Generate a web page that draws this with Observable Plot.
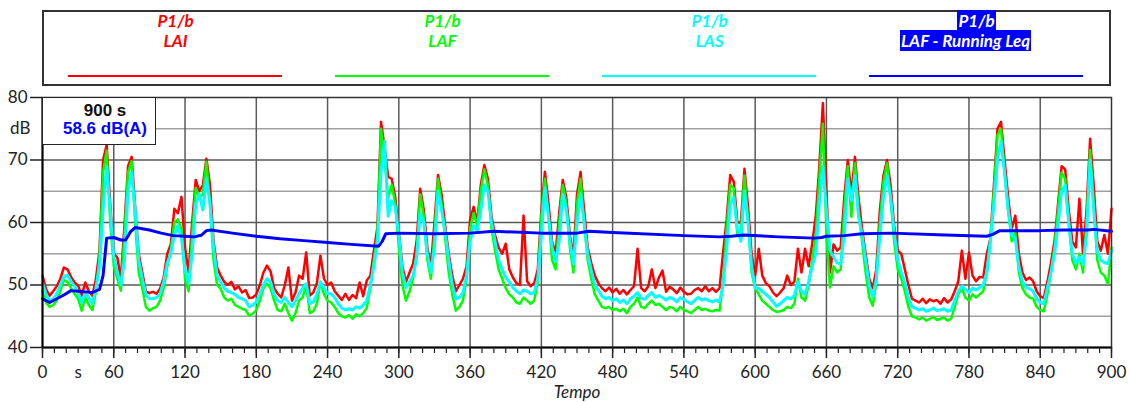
<!DOCTYPE html>
<html>
<head>
<meta charset="utf-8">
<script src="https://cdn.jsdelivr.net/npm/d3@7"></script>
<script src="https://cdn.jsdelivr.net/npm/@observablehq/plot@0.6"></script>
<style>
  body { margin: 0; background: #fff; width: 1129px; height: 402px; position: relative; overflow: hidden; font-family: Lato, sans-serif; }
  #legend { position: absolute; left: 42px; top: 10px; width: 1069px; height: 76px; box-sizing: border-box; border: 2px solid #333; background: #fff; }
  .entry { position: absolute; top: 0; width: 267px; height: 100%; }
  .entry .t { position: absolute; left: 0; right: 0; text-align: center; font-weight: 700; font-style: italic; font-size: 17px; line-height: 19px; white-space: nowrap; }
  .entry .l1 { top: -1px; }
  .entry .l2 { top: 19px; }
  .entry .sw { position: absolute; left: 26px; width: 214px; top: 63px; height: 2px; }
  .entry.sel .t span { background: #0000ff; color: #fff; padding: 0 1px; }
  #chart { position: absolute; left: 0; top: 88px; }
  #readout { position: absolute; left: 42px; top: 97px; width: 114px; height: 48px; box-sizing: border-box; border: 1px solid #222; background: #fff; font-family: "Liberation Sans", Arial, sans-serif; font-weight: 700; font-size: 17px; line-height: 20px; text-align: center; }
  #readout div { position: absolute; left: 12px; right: 0; }
</style>
</head>
<body>
<div id="legend"></div>
<div id="chart"></div>
<div id="readout"></div>
<script>
// Sound level record P1/b, one sample every 3 s from 0 to 900 s (dB(A))
const step = 3;

// LAI – impulse time weighting
const LAI = [
  51.5, 49.3, 48.3, 49.0, 49.8, 51.0, 52.8, 52.5, 51.3, 50.4,
  49.9, 48.3, 50.4, 49.0, 48.3, 51.0, 55.5, 70.0, 72.4, 63.0,
  55.0, 54.4, 51.0, 59.5, 69.0, 70.5, 62.5, 55.0, 52.0, 49.0,
  48.7, 48.9, 48.6, 49.4, 51.2, 55.0, 56.5, 62.2, 61.5, 64.1,
  56.0, 52.0, 60.0, 66.8, 65.0, 66.0, 70.2, 66.0, 57.0, 52.8,
  51.5, 50.5, 50.0, 50.5, 49.3, 49.8, 48.8, 49.2, 47.9, 48.0,
  48.5, 50.0, 52.0, 53.1, 52.2, 49.5, 48.6, 48.0, 50.0, 52.8,
  47.5, 48.8, 51.5, 51.0, 55.2, 48.3, 48.8, 50.3, 54.7, 51.0,
  50.0, 50.4, 49.0, 48.3, 47.6, 48.6, 47.6, 48.4, 47.9, 50.4,
  48.2, 50.7, 51.5, 55.5, 59.3, 76.1, 72.0, 67.3, 67.0, 64.0,
  58.5, 53.0, 50.5, 52.0, 53.4, 57.0, 65.4, 62.0, 56.0, 53.0,
  60.0, 67.6, 64.5, 59.5, 55.0, 51.5, 49.0, 50.0, 51.0, 53.0,
  60.5, 62.5, 60.0, 66.0, 69.2, 67.0, 61.0, 58.0, 56.0, 55.0,
  56.6, 52.5, 51.2, 50.3, 50.0, 61.1, 50.6, 49.8, 50.3, 52.5,
  62.0, 68.1, 63.0, 57.0, 55.0, 61.5, 66.8, 64.0, 58.0, 54.5,
  64.5, 68.1, 62.0, 56.0, 53.5, 51.5, 50.3, 49.5, 49.0, 49.6,
  48.8, 49.4, 48.6, 49.2, 48.5, 49.2, 49.8, 55.8, 49.5, 49.0,
  49.8, 52.5, 49.5, 51.2, 52.3, 48.9, 49.7, 49.3, 48.7, 49.6,
  48.9, 48.5, 48.6, 49.2, 49.5, 49.0, 49.8, 49.0, 49.5, 48.9,
  49.5, 55.2, 60.5, 67.6, 66.5, 60.0, 60.0, 68.6, 62.5, 55.0,
  51.5, 55.8, 51.5, 50.3, 49.8, 48.8, 48.2, 48.8, 49.5, 51.5,
  50.0, 50.5, 55.8, 52.0, 55.8, 53.0, 56.6, 61.0, 68.9, 79.1,
  65.1, 52.0, 56.5, 55.5, 56.0, 64.0, 70.0, 64.5, 70.5, 64.0,
  59.0, 55.0, 51.0, 49.5, 52.5, 62.0, 67.5, 70.0, 66.0, 59.5,
  55.5, 55.0, 52.5, 50.0, 47.8, 47.5, 47.2, 47.8, 47.1, 47.7,
  47.4, 47.6, 47.0, 47.9, 47.2, 47.7, 49.0, 50.6, 55.5, 51.0,
  55.2, 51.5, 50.6, 51.3, 51.2, 55.0, 57.4, 66.0, 75.0, 76.1,
  70.0, 64.0, 59.0, 61.1, 55.0, 52.0, 50.8, 51.2, 50.6, 49.0,
  48.2, 47.9, 50.5, 53.5, 57.0, 63.0, 69.0, 68.5, 62.0, 57.0,
  56.0, 63.8, 55.0, 62.0, 73.4, 66.0, 57.0, 55.5, 58.0, 55.0,
  62.2
];

// LAF – fast time weighting
const LAF = [
  49.0, 47.2, 46.5, 46.8, 47.5, 49.0, 50.8, 50.5, 49.5, 48.6,
  47.8, 45.9, 48.0, 46.8, 46.0, 49.0, 54.5, 68.0, 71.5, 60.0,
  53.0, 51.0, 49.1, 58.0, 68.0, 69.8, 60.0, 52.0, 49.5, 46.5,
  45.9, 46.3, 46.5, 47.5, 49.5, 53.0, 55.5, 60.0, 60.5, 59.0,
  51.0, 49.0, 58.0, 65.5, 64.0, 64.5, 69.7, 63.0, 54.0, 50.0,
  49.4, 48.0, 47.5, 47.8, 46.8, 46.5, 46.2, 46.0, 45.1, 45.4,
  46.0, 47.5, 49.5, 50.2, 49.5, 47.5, 46.0, 45.8, 47.0, 45.5,
  44.3, 45.5, 47.5, 48.0, 50.0, 45.5, 45.8, 47.0, 50.5, 48.5,
  47.5, 47.2, 46.5, 45.5, 45.0, 44.8, 45.2, 44.6, 45.3, 45.0,
  45.5, 46.3, 49.5, 54.0, 58.0, 75.0, 70.0, 64.0, 66.0, 63.0,
  56.0, 50.0, 47.5, 49.0, 51.0, 55.0, 64.5, 61.0, 54.0, 51.0,
  58.0, 67.0, 63.0, 57.5, 52.0, 48.5, 45.9, 46.5, 47.5, 51.0,
  59.0, 61.5, 59.5, 65.0, 68.5, 66.0, 59.0, 55.5, 52.5, 51.0,
  49.5, 48.5, 48.0, 47.2, 47.0, 48.0, 47.5, 47.0, 47.5, 50.5,
  61.0, 67.0, 61.0, 54.0, 52.5, 60.0, 66.0, 63.0, 56.0, 52.0,
  63.0, 67.0, 60.0, 54.0, 51.0, 48.5, 47.5, 46.5, 46.3, 46.5,
  46.0, 46.2, 45.8, 46.2, 45.5, 46.5, 47.0, 48.0, 46.5, 46.3,
  47.0, 47.5, 46.8, 47.0, 46.5, 46.0, 46.5, 46.3, 45.8, 46.5,
  46.0, 45.8, 45.5, 46.0, 46.5, 46.0, 46.2, 45.9, 45.8, 46.0,
  45.9, 50.5, 59.0, 66.0, 65.5, 58.0, 58.5, 67.5, 60.5, 52.0,
  49.5, 48.5, 47.5, 47.0, 46.5, 46.0, 45.7, 45.8, 46.0, 46.5,
  46.3, 47.0, 51.0, 48.0, 47.5, 50.0, 54.0, 58.0, 67.0, 75.8,
  58.0, 49.6, 53.0, 52.0, 52.5, 62.0, 69.0, 60.9, 69.5, 62.0,
  57.0, 52.0, 48.0, 46.7, 50.5, 60.0, 66.5, 69.5, 64.0, 57.0,
  52.5, 51.0, 49.0, 46.5, 45.0, 44.8, 44.5, 44.8, 44.3, 44.6,
  44.9, 44.4, 44.6, 44.8, 44.3, 44.6, 46.5, 48.5, 49.5, 48.0,
  47.5, 48.5, 48.0, 48.5, 49.0, 52.0, 57.0, 65.0, 74.0, 75.0,
  68.0, 62.0, 57.0, 58.5, 52.0, 49.5, 48.5, 48.0, 47.8, 46.5,
  46.0, 45.8, 48.5, 52.0, 56.0, 62.0, 68.0, 67.0, 60.0, 54.0,
  52.5, 55.0, 52.0, 60.0, 71.6, 63.0, 54.0, 52.0, 51.5, 50.2,
  56.0
];

// LAS – slow time weighting
const LAS = [
  50.3, 48.5, 47.4, 47.8, 48.6, 50.0, 51.3, 51.6, 50.6, 49.8,
  48.8, 47.2, 48.8, 48.0, 47.0, 49.5, 53.0, 62.0, 69.0, 62.0,
  54.5, 52.0, 50.0, 54.0, 65.0, 68.0, 62.0, 54.0, 51.0, 48.5,
  47.8, 47.8, 48.0, 48.6, 50.5, 53.5, 55.0, 58.0, 59.5, 57.5,
  52.5, 50.2, 55.0, 63.0, 64.5, 62.0, 67.0, 63.0, 56.0, 51.5,
  50.5, 49.5, 49.0, 48.8, 48.5, 48.0, 47.8, 47.5, 46.5, 46.8,
  47.3, 48.5, 50.0, 51.0, 50.5, 48.5, 47.5, 47.2, 48.0, 47.2,
  46.5, 47.5, 48.6, 49.5, 50.2, 47.0, 47.3, 48.5, 50.5, 49.5,
  48.6, 48.6, 48.0, 47.0, 46.3, 46.0, 46.2, 46.0, 46.5, 46.3,
  46.8, 47.5, 50.0, 53.0, 57.0, 68.0, 73.0, 61.0, 63.5, 62.5,
  58.0, 52.0, 49.6, 50.5, 51.5, 54.5, 61.5, 60.0, 55.0, 52.0,
  56.0, 65.0, 62.0, 58.5, 54.0, 50.0, 47.8, 48.0, 48.8, 51.5,
  57.0, 59.5, 58.7, 62.0, 66.0, 65.0, 60.0, 57.0, 54.0, 52.5,
  51.2, 50.5, 49.6, 49.0, 48.6, 49.2, 49.0, 48.6, 48.8, 51.0,
  58.0, 65.5, 61.0, 56.0, 53.8, 57.0, 64.5, 62.0, 57.0, 53.4,
  60.0, 64.5, 60.0, 55.0, 52.3, 50.0, 49.2, 48.2, 47.8, 48.0,
  47.5, 47.8, 47.2, 47.6, 47.0, 47.8, 48.2, 48.8, 47.9, 47.7,
  48.3, 48.8, 48.0, 48.3, 48.0, 47.6, 48.0, 47.8, 47.3, 48.0,
  47.7, 47.3, 47.0, 47.5, 48.0, 47.6, 47.8, 47.5, 47.3, 47.6,
  47.3, 50.0, 56.0, 63.0, 64.0, 59.0, 57.0, 65.0, 60.0, 53.0,
  49.5, 49.5, 49.0, 48.5, 48.0, 47.3, 46.6, 47.0, 47.5, 48.0,
  47.8, 48.3, 50.5, 49.0, 48.5, 50.5, 53.0, 55.0, 63.0, 69.0,
  62.0, 55.5, 54.5, 53.5, 53.4, 58.0, 67.0, 63.5, 67.5, 61.0,
  58.0, 54.0, 50.0, 48.0, 51.0, 58.0, 64.0, 67.5, 64.0, 58.5,
  54.0, 52.0, 50.4, 48.0, 46.5, 46.3, 46.0, 46.2, 45.8, 46.0,
  46.3, 45.9, 46.0, 46.2, 45.8, 46.0, 47.5, 49.0, 49.8, 49.3,
  48.8, 49.5, 49.2, 49.6, 50.0, 52.0, 57.0, 63.0, 70.0, 73.0,
  68.0, 62.0, 58.0, 57.5, 53.0, 50.5, 49.6, 49.4, 49.0, 47.8,
  47.2, 47.0, 49.5, 52.0, 55.0, 59.8, 65.0, 66.0, 60.0, 55.0,
  53.5, 54.5, 53.3, 58.0, 70.0, 62.0, 55.5, 54.0, 53.6, 53.4,
  55.5
];

// LAF running Leq
const leqTime = [0, 6, 12, 18, 24, 30, 36, 42, 48, 51, 54, 60, 66, 70, 74, 78, 90, 100, 110, 120,
  128, 134, 138, 142, 160, 180, 200, 220, 240, 260, 283, 286, 289, 300, 330, 360, 380, 420, 450, 460,
  480, 540, 570, 580, 590, 620, 650, 656, 660, 675, 690, 715, 760, 795, 800, 806, 840, 860, 880, 885, 900];
const leq = [47.8, 47.2, 47.8, 48.4, 49.1, 49.0, 48.9, 48.8, 49.3, 51.5, 57.5, 57.6, 57.2, 57.2, 58.5, 59.2, 58.8, 58.3, 57.9, 57.8,
  57.7, 58.0, 58.7, 58.8, 58.3, 57.8, 57.4, 57.1, 56.8, 56.5, 56.2, 57.0, 58.2, 58.3, 58.2, 58.3, 58.6, 58.3, 58.3, 58.6,
  58.4, 57.9, 57.7, 57.8, 58.0, 57.7, 57.5, 57.6, 57.8, 57.9, 58.2, 58.3, 58.0, 57.8, 58.1, 58.7, 58.7, 58.8, 58.8, 58.9, 58.6];

// Legend entries
const seriesLabels = ["LAI", "LAF", "LAS", "LAF - Running Leq"];
const seriesColors = ["#ff0000", "#00ff00", "#00ffff", "#0000ff"];
const station = "P1/b";
const selected = 3;

// Axis ticks
const yTicks = [40, 50, 60, 70, 80];
const yMinorGrid = [45, 55, 65, 75];
const xMajor = d3.range(0, 901, 60);
const xMinor = d3.range(0, 901, 10);

const time = LAS.map((_, i) => i * step);
const rows = time.map((t, i) => ({t, lai: LAI[i], laf: LAF[i], las: LAS[i]}));
const leqRows = leqTime.map((t, i) => ({t, leq: leq[i]}));

// Legend
const legend = document.getElementById("legend");
seriesLabels.forEach((name, i) => {
  const e = document.createElement("div");
  e.className = "entry" + (i === selected ? " sel" : "");
  e.style.left = (i * 267 - 2) + "px";
  e.style.color = seriesColors[i];
  e.innerHTML = `<div class="t l1"><span>${station}</span></div>` +
                `<div class="t l2"${i === selected ? ' style="right:22px"' : ''}><span>${name}</span></div>` +
                `<div class="sw" style="background:${seriesColors[i]}"></div>`;
  legend.appendChild(e);
});

// Readout of the final running Leq
const readout = document.getElementById("readout");
readout.innerHTML = `<div style="top:3px;color:#111">${time[time.length - 1]} s</div>` +
                    `<div style="top:21px;color:#0000ff">${leq[leq.length - 1].toFixed(1)} dB(A)</div>`;

const chart = Plot.plot({
  width: 1129,
  height: 314,
  marginTop: 9,
  marginBottom: 55,
  marginLeft: 42,
  marginRight: 18,
  style: {fontFamily: "Lato, sans-serif", fontSize: "17px", color: "#222", background: "transparent", overflow: "visible"},
  x: {domain: [0, 900], label: null},
  y: {domain: [40, 80], label: null},
  marks: [
    Plot.ruleY(yMinorGrid, {stroke: "#a0a0a0", strokeWidth: 1.5}),
    Plot.ruleY(yTicks.slice(1, -1), {stroke: "#585858", strokeWidth: 1.5}),
    Plot.ruleX(xMajor.slice(1, -1), {stroke: "#5a5a5a", strokeWidth: 1.5}),
    Plot.line(rows, {x: "t", y: "lai", stroke: seriesColors[0], strokeWidth: 2.5}),
    Plot.line(rows, {x: "t", y: "laf", stroke: seriesColors[1], strokeWidth: 2.5}),
    Plot.line(rows, {x: "t", y: "las", stroke: seriesColors[2], strokeWidth: 3}),
    Plot.line(leqRows, {x: "t", y: "leq", stroke: seriesColors[3], strokeWidth: 3}),
    Plot.frame({stroke: "#333", strokeWidth: 1.5}),
    Plot.ruleY([40], {stroke: "#000", strokeWidth: 2}),
    Plot.ruleX([0], {stroke: "#000", strokeWidth: 2}),
    Plot.axisX(xMinor, {tickSize: 6, tickFormat: () => "", label: null, strokeWidth: 1.2}),
    Plot.axisX(xMajor, {tickSize: 11, tickPadding: 7, label: null, strokeWidth: 1.5}),
    Plot.axisX([30], {tickSize: 0, tickPadding: 18, tickFormat: () => "s", label: null}),
    Plot.axisY(yTicks, {tickSize: 12, tickPadding: 3, label: null, strokeWidth: 1.5}),
    Plot.axisY([75], {tickSize: 0, tickPadding: 12, tickFormat: () => "dB", label: null}),
    Plot.text(["Tempo"], {text: d => d, frameAnchor: "bottom", dy: 50, fontStyle: "italic", fontSize: 17})
  ]
});
document.getElementById("chart").appendChild(chart);
</script>
</body>
</html>
